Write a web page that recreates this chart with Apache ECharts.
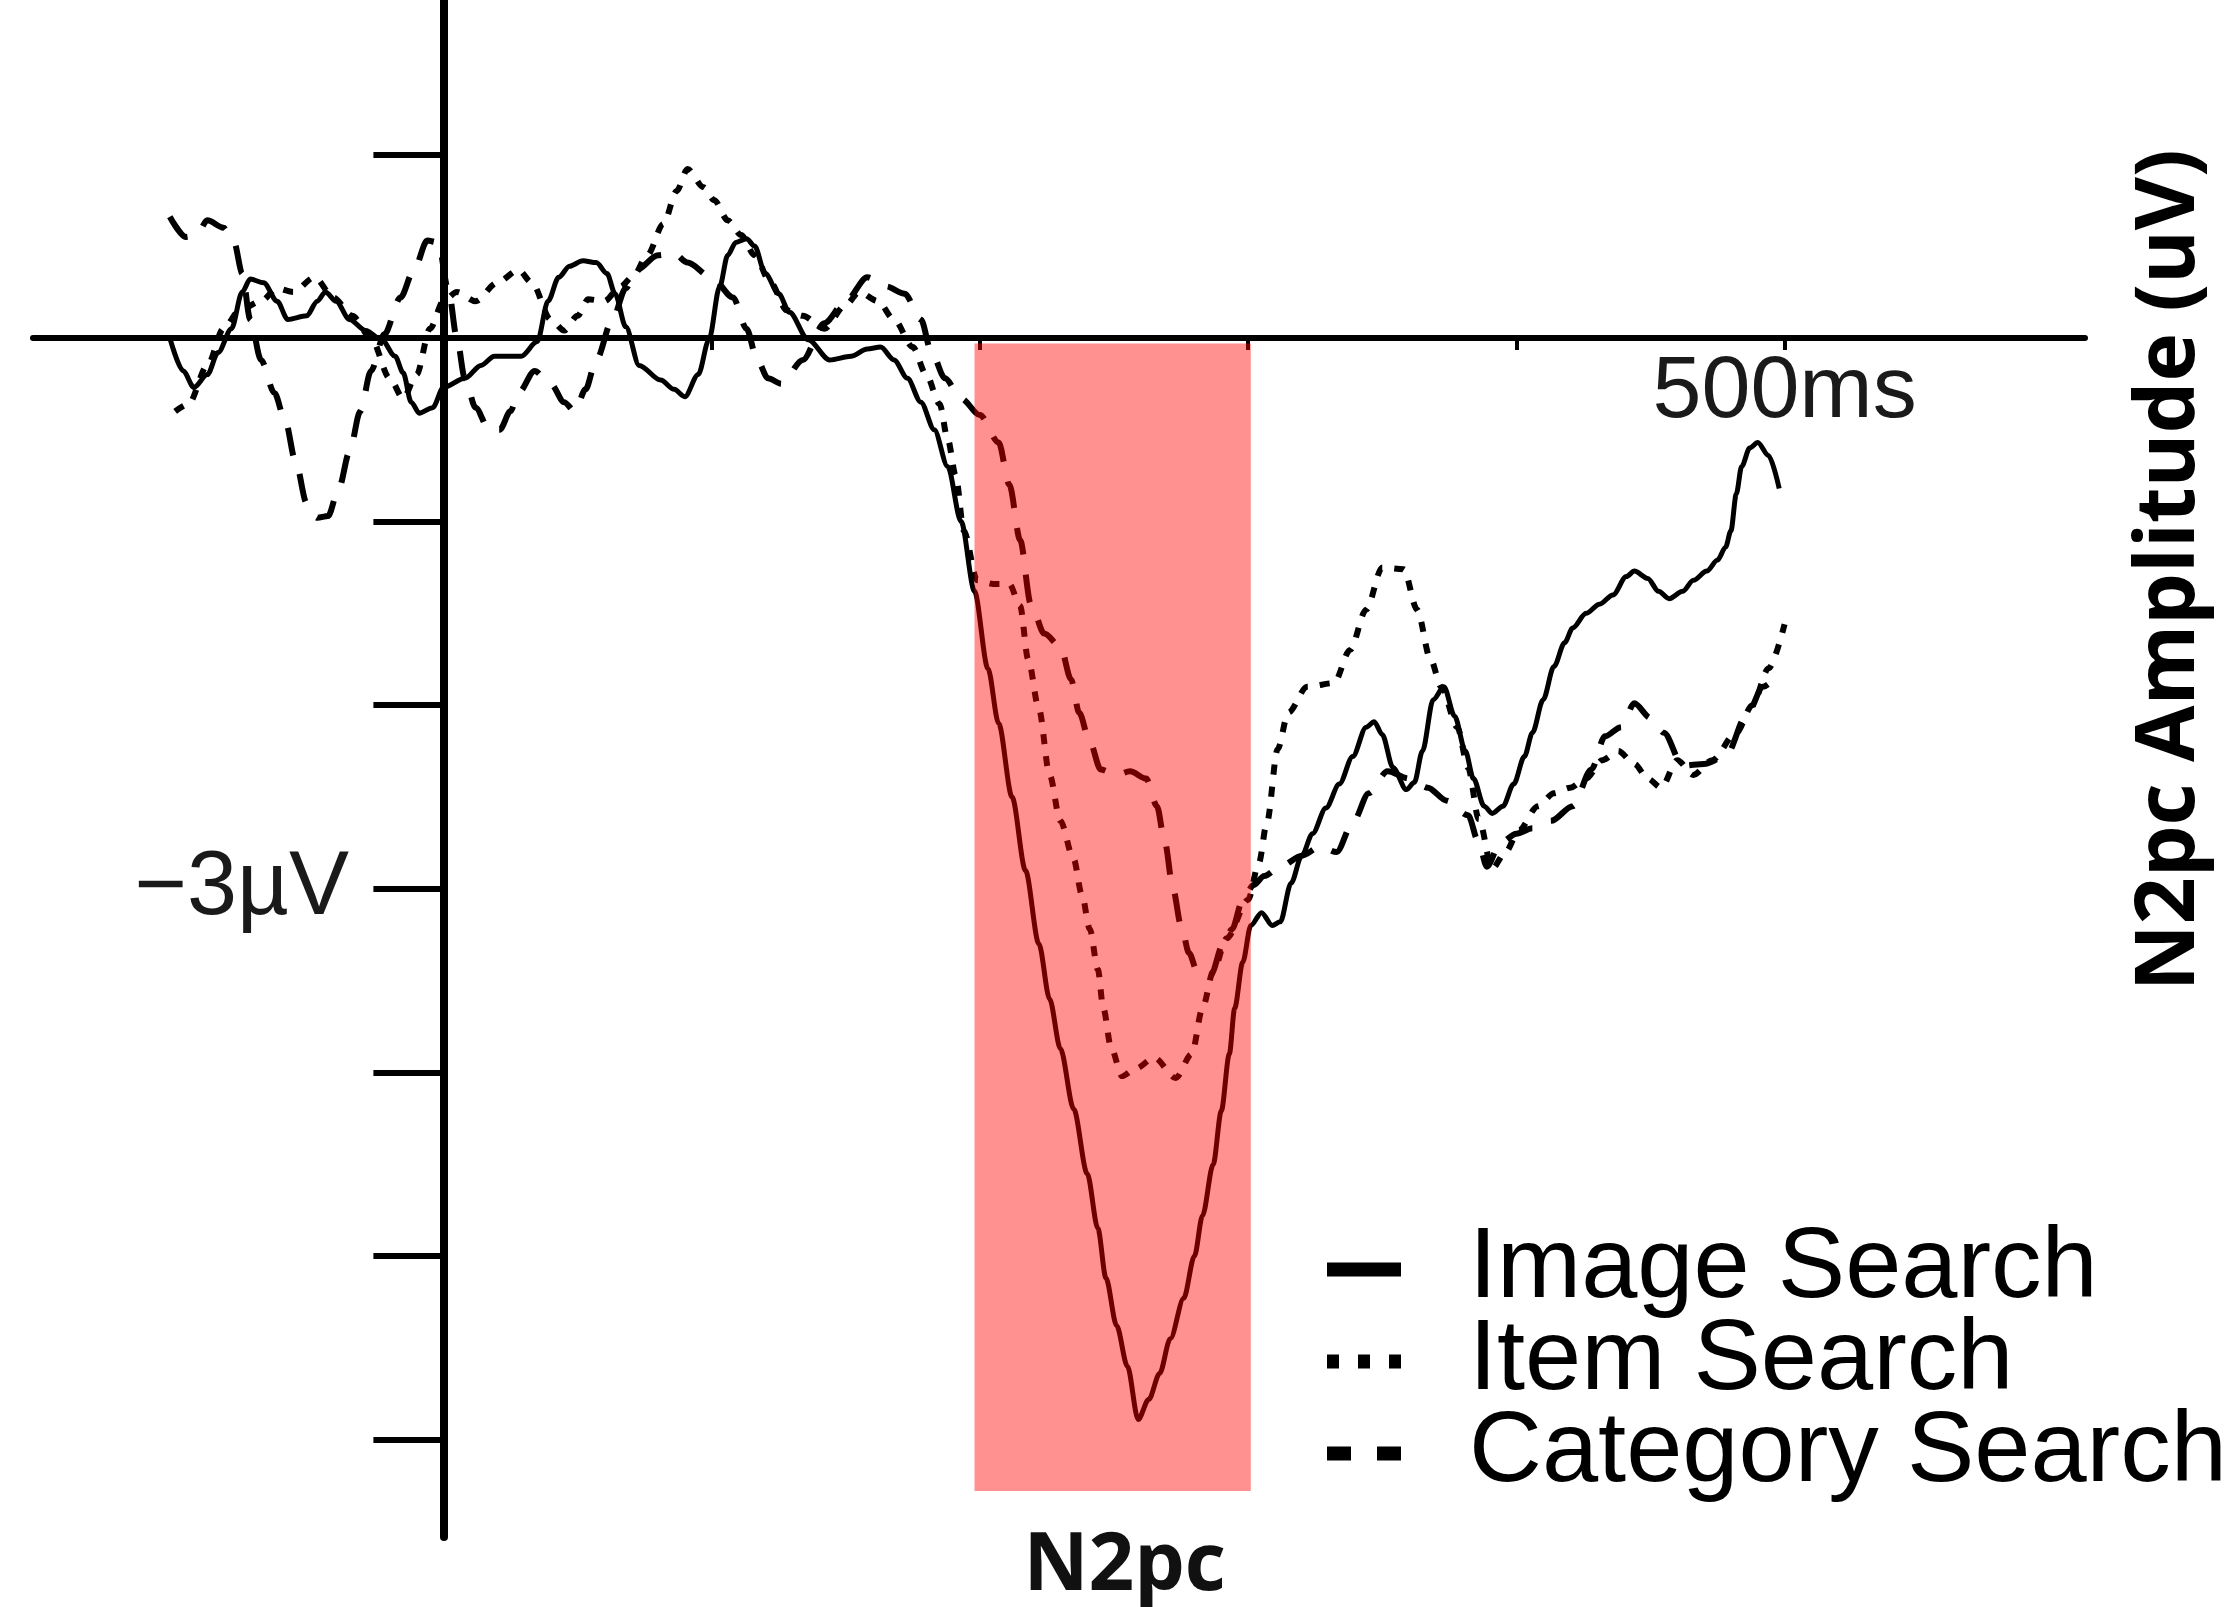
<!DOCTYPE html>
<html>
<head>
<meta charset="utf-8">
<title>N2pc</title>
<script src="https://cdn.jsdelivr.net/npm/echarts@6/dist/echarts.min.js"></script>
<style>
  html, body { margin: 0; padding: 0; background: #fff; }
  #chart { width: 2232px; height: 1607px; }
</style>
</head>
<body>
<div id="chart"></div>
<script>
// tick positions
var timeTicksMs = [100, 200, 300, 400, 500];
var timeLabelsMs = [500];
var voltTicksUv = [1, -1, -2, -3, -4, -5, -6];
var voltLabelsUv = [-3];

// N2pc window (ms) and shaded amplitude extent (uV)
var n2pcWindowMs = [198, 301];
var n2pcAmplitudeUv = [-0.03, -6.28];

// waveforms: [time ms, amplitude uV]
var imageSearch = [
  [-102, 0.0], [-97, -0.18], [-93, -0.27], [-88, -0.2], [-84, -0.08], [-79, 0.05], [-75, 0.25], [-72, 0.32],
  [-67, 0.3], [-62, 0.2], [-58, 0.1], [-51, 0.12], [-47, 0.2], [-44, 0.25], [-40, 0.2], [-35, 0.1],
  [-29, 0.04], [-23, -0.01], [-18, -0.1], [-15, -0.19], [-12, -0.35], [-9, -0.41], [-4, -0.38], [0, -0.27],
  [8, -0.22], [14, -0.15], [19, -0.1], [29, -0.1], [35, -0.02], [39, 0.2], [43, 0.33], [47, 0.39],
  [52, 0.42], [57, 0.41], [61, 0.35], [64, 0.24], [68, 0.06], [73, -0.15], [81, -0.23], [86, -0.28],
  [90, -0.32], [95, -0.2], [99, -0.01], [103, 0.28], [106, 0.45], [109, 0.52], [113, 0.54], [116, 0.5],
  [120, 0.35], [125, 0.24], [129, 0.14], [136, -0.01], [144, -0.12], [152, -0.1], [158, -0.06], [163, -0.05],
  [168, -0.12], [173, -0.22], [178, -0.35], [183, -0.5], [188, -0.7], [193, -1.0], [198, -1.38], [203, -1.8],
  [207, -2.1], [212, -2.5], [217, -2.9], [222, -3.3], [226, -3.6], [230, -3.87], [235, -4.2], [240, -4.55],
  [244, -4.85], [247, -5.12], [251, -5.38], [255, -5.6], [259, -5.89], [263, -5.78], [267, -5.64], [271, -5.45],
  [276, -5.23], [280, -5.0], [283, -4.78], [287, -4.5], [290, -4.21], [293, -3.9], [295, -3.65], [298, -3.4],
  [301, -3.2], [305, -3.13], [309, -3.2], [312, -3.18], [316, -2.97], [320, -2.82], [324, -2.7], [329, -2.56],
  [334, -2.43], [339, -2.28], [344, -2.12], [347, -2.09], [350, -2.16], [354, -2.34], [359, -2.46], [362, -2.42],
  [365, -2.25], [369, -1.97], [373, -1.9], [377, -2.06], [381, -2.25], [384, -2.4], [388, -2.55], [391, -2.59],
  [395, -2.55], [399, -2.43], [403, -2.28], [406, -2.15], [410, -1.97], [414, -1.79], [418, -1.66], [421, -1.58],
  [426, -1.5], [431, -1.45], [436, -1.4], [441, -1.3], [444, -1.27], [449, -1.31], [453, -1.38], [457, -1.42],
  [462, -1.38], [466, -1.32], [471, -1.27], [475, -1.21], [478, -1.14], [480, -1.05], [482, -0.85], [484, -0.7],
  [487, -0.6], [490, -0.57], [494, -0.64], [498, -0.82]
];
var itemSearch = [
  [-100, -0.4], [-95, -0.36], [-88, -0.15], [-82, 0.05], [-76, 0.15], [-68, 0.2], [-62, 0.27], [-56, 0.25],
  [-48, 0.33], [-41, 0.22], [-34, 0.12], [-27, 0.0], [-20, -0.22], [-15, -0.33], [-10, -0.2], [-5, 0.05],
  [0, 0.2], [5, 0.25], [12, 0.2], [20, 0.3], [28, 0.37], [33, 0.3], [40, 0.1], [45, 0.04],
  [50, 0.12], [54, 0.21], [60, 0.2], [66, 0.28], [71, 0.34], [76, 0.45], [82, 0.62], [87, 0.8],
  [91, 0.92], [97, 0.82], [101, 0.75], [106, 0.64], [111, 0.56], [116, 0.45], [122, 0.3], [128, 0.15],
  [134, 0.12], [142, 0.05], [150, 0.18], [155, 0.25], [162, 0.2], [168, 0.1], [175, -0.05], [180, -0.2],
  [185, -0.36], [188, -0.55], [191, -0.75], [194, -1.05], [199, -1.32], [205, -1.34], [211, -1.34], [215, -1.46],
  [218, -1.75], [222, -2.02], [226, -2.38], [230, -2.63], [235, -2.84], [238, -3.03], [241, -3.22], [244, -3.44],
  [246, -3.65], [249, -3.87], [253, -4.02], [258, -3.98], [265, -3.92], [273, -4.03], [279, -3.9], [283, -3.65],
  [287, -3.45], [292, -3.27], [300, -3.06], [304, -2.86], [307, -2.64], [311, -2.24], [315, -2.04], [322, -1.9],
  [332, -1.88], [338, -1.7], [344, -1.48], [350, -1.25], [358, -1.26], [363, -1.48], [368, -1.75], [372, -1.9],
  [378, -2.12], [382, -2.34], [386, -2.62], [391, -2.89], [396, -2.8], [401, -2.68], [408, -2.55], [414, -2.48],
  [420, -2.45], [426, -2.4], [432, -2.3], [438, -2.25], [444, -2.32], [449, -2.4], [454, -2.45], [460, -2.3],
  [466, -2.38], [473, -2.3], [482, -2.15], [488, -2.0], [494, -1.8], [500, -1.56]
];
var categorySearch = [
  [-102, 0.66], [-96, 0.55], [-92, 0.56], [-88, 0.64], [-82, 0.6], [-78, 0.52], [-75, 0.35], [-72, 0.1],
  [-68, -0.12], [-63, -0.3], [-59, -0.45], [-55, -0.68], [-51, -0.9], [-47, -0.98], [-43, -0.97], [-39, -0.82],
  [-35, -0.62], [-31, -0.4], [-27, -0.18], [-22, 0.02], [-16, 0.22], [-11, 0.37], [-6, 0.53], [-2, 0.52],
  [2, 0.25], [5, 0.0], [8, -0.22], [12, -0.38], [17, -0.5], [21, -0.5], [25, -0.4], [28, -0.3],
  [34, -0.18], [40, -0.25], [45, -0.35], [49, -0.4], [53, -0.28], [57, -0.12], [63, 0.1], [68, 0.27],
  [72, 0.37], [80, 0.45], [86, 0.46], [91, 0.41], [100, 0.33], [108, 0.22], [113, 0.05], [117, -0.12],
  [121, -0.22], [126, -0.25], [134, -0.12], [142, 0.08], [150, 0.2], [158, 0.33], [165, 0.28], [172, 0.24],
  [178, 0.1], [182, -0.08], [187, -0.22], [193, -0.33], [200, -0.42], [207, -0.57], [211, -0.8], [215, -1.1],
  [219, -1.45], [224, -1.61], [230, -1.68], [234, -1.86], [237, -2.04], [241, -2.2], [245, -2.35], [251, -2.38],
  [256, -2.36], [262, -2.4], [266, -2.55], [269, -2.75], [272, -3.0], [275, -3.2], [278, -3.35], [281, -3.45],
  [286, -3.47], [291, -3.29], [294, -3.22], [298, -3.06], [302, -2.98], [306, -2.93], [312, -2.88], [320, -2.82],
  [327, -2.77], [333, -2.8], [339, -2.64], [345, -2.48], [352, -2.36], [360, -2.4], [367, -2.45], [374, -2.52],
  [382, -2.6], [386, -2.75], [389, -2.88], [394, -2.75], [400, -2.7], [406, -2.67], [413, -2.63], [421, -2.55],
  [428, -2.35], [433, -2.17], [439, -2.12], [444, -1.99], [450, -2.07], [455, -2.15], [462, -2.33], [470, -2.32],
  [478, -2.28], [486, -2.05], [492, -1.9], [497, -1.84]
];

var chart = echarts.init(document.getElementById('chart'));

// one style for the three traces, dash pattern differs
function wave(name, data, dash, width) {
  return {
    name: name,
    type: 'line',
    data: data,
    symbol: 'none',
    smooth: 0.3,
    smoothMonotone: 'x',
    color: '#000',
    lineStyle: { color: '#000', width: width, type: dash },
    z: 2
  };
}

chart.setOption({
  animation: false,
  backgroundColor: '#fff',
  grid: { left: 33, right: 147, top: 0, bottom: 70, containLabel: false, outerBoundsMode: 'none' },
  xAxis: {
    type: 'value',
    min: -153,
    max: 612,
    axisLine: { onZero: true, lineStyle: { color: '#000', width: 6 } },
    axisTick: { customValues: timeTicksMs, length: 12, lineStyle: { color: '#000', width: 4 } },
    // labels stay at the grid edge when the line sits on zero, so pull them back up
    axisLabel: {
      customValues: timeLabelsMs,
      formatter: function (v) { return v + 'ms'; },
      margin: -1188,
      fontSize: 88,
      fontFamily: 'Liberation Sans',
      color: '#1a1a1a'
    },
    splitLine: { show: false }
  },
  yAxis: {
    type: 'value',
    min: -6.53,
    max: 1.84,
    axisLine: { onZero: true, lineStyle: { color: '#000', width: 8 } },
    axisTick: { customValues: voltTicksUv, length: 70, lineStyle: { color: '#000', width: 6 } },
    axisLabel: {
      customValues: voltLabelsUv,
      formatter: function (v) { return '\u2212' + Math.abs(v) + '\u00b5V'; },
      margin: -316,
      fontSize: 90,
      fontFamily: 'Liberation Sans',
      color: '#1a1a1a'
    },
    splitLine: { show: false }
  },
  legend: {
    orient: 'vertical',
    left: 1327,
    top: 1219,
    padding: 0,
    itemGap: -9,
    itemWidth: 74,
    itemHeight: 14,
    symbolKeepAspect: false,
    selectedMode: false,
    textStyle: {
      fontSize: 101,
      fontFamily: 'Liberation Sans',
      color: '#000',
      lineHeight: 87,
      padding: [0, 0, 0, 63]
    },
    data: [
      { name: 'Image Search', icon: 'path://M0,0H74V14H0Z' },
      { name: 'Item Search', icon: 'path://M0,0H12V14H0ZM31,0H43V14H31ZM62,0H74V14H62Z' },
      { name: 'Category Search', icon: 'path://M0,0H24V14H0ZM50,0H74V14H50Z' }
    ]
  },
  graphic: [{
    type: 'text',
    x: 2171,
    y: 570,
    rotation: Math.PI / 2,
    style: {
      text: 'N2pc Amplitude (uV)',
      fontSize: 82,
      fontWeight: 'bold',
      fontFamily: 'Open Sans',
      fill: '#000',
      align: 'center',
      verticalAlign: 'middle'
    }
  }],
  series: [
    wave('Image Search', imageSearch, 'solid', 5),
    wave('Item Search', itemSearch, [10, 12], 6),
    wave('Category Search', categorySearch, [28, 20], 6),
    {
      // shaded N2pc window sits above the traces
      name: 'N2pc',
      type: 'line',
      data: [],
      z: 10,
      silent: true,
      markArea: {
        silent: true,
        z: 10,
        itemStyle: { color: 'rgba(255,0,0,0.43)' },
        label: {
          show: true,
          position: 'bottom',
          distance: 36,
          offset: [12, 0],
          formatter: 'N2pc',
          fontSize: 80,
          fontWeight: 'bold',
          fontFamily: 'Open Sans',
          color: '#111'
        },
        data: [[
          { xAxis: n2pcWindowMs[0], yAxis: n2pcAmplitudeUv[0] },
          { xAxis: n2pcWindowMs[1], yAxis: n2pcAmplitudeUv[1] }
        ]]
      }
    }
  ]
});
</script>
</body>
</html>
